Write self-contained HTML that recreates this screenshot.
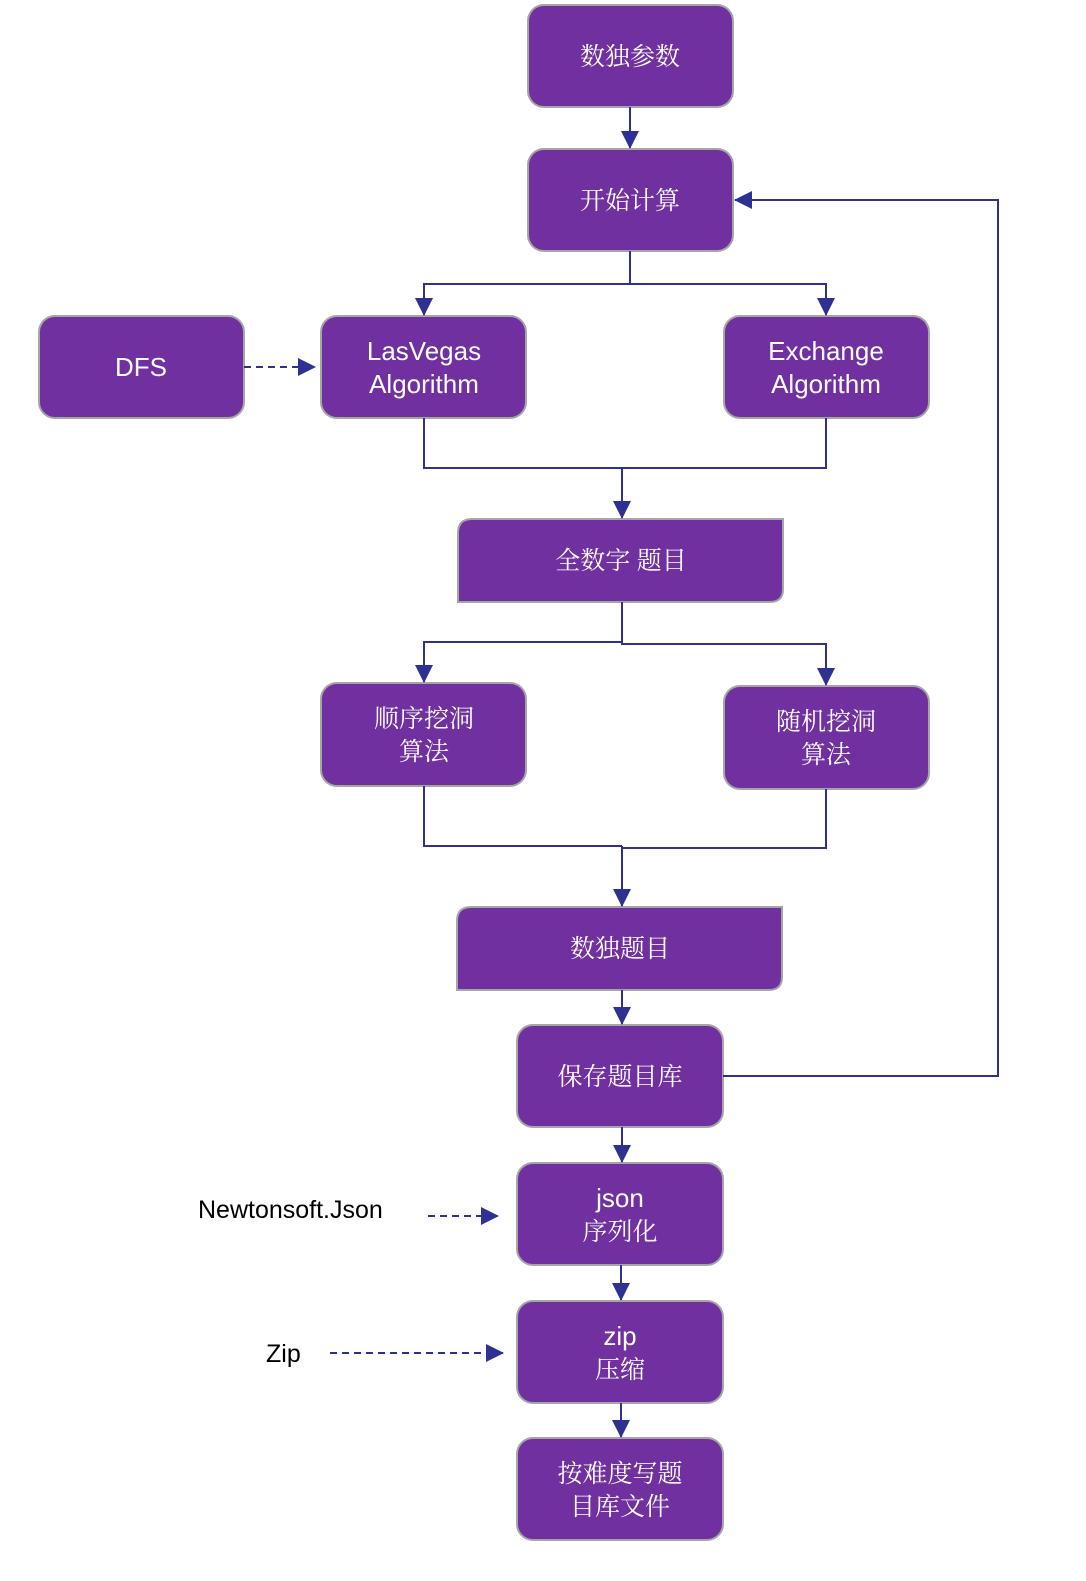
<!DOCTYPE html>
<html><head><meta charset="utf-8"><style>
html,body{margin:0;padding:0;background:#fff;}
svg text{fill:#fff;}
.c{font-family:"Noto Serif CJK SC","Liberation Serif",serif;font-size:25px;}
.l{font-family:"Liberation Sans",sans-serif;font-size:26px;}
</style></head><body>
<svg width="1086" height="1576" viewBox="0 0 1086 1576" xmlns="http://www.w3.org/2000/svg">
<defs><marker id="a" markerWidth="10" markerHeight="10" refX="9" refY="5" orient="auto" markerUnits="userSpaceOnUse" viewBox="0 0 10 10"><path d="M0,0 L10,5 L0,10 z" fill="#2e3192"/></marker>
<marker id="b" markerWidth="18" markerHeight="18" refX="17" refY="9" orient="auto" markerUnits="userSpaceOnUse" viewBox="0 0 18 18"><path d="M0,0 L18,9 L0,18 z" fill="#2e3192"/></marker></defs>
<g fill="#7030a0" stroke="#a6a6a6" stroke-width="2">
<rect x="528" y="5" width="205" height="102" rx="16"/>
<rect x="528" y="149" width="205" height="102" rx="16"/>
<rect x="39" y="316" width="205" height="102" rx="16"/>
<rect x="321" y="316" width="205" height="102" rx="16"/>
<rect x="724" y="316" width="205" height="102" rx="16"/>
<path d="M472,519 H783 V589 Q783,602 770,602 H458 V533 Q458,519 472,519 Z"/>
<rect x="321" y="683" width="205" height="103" rx="16"/>
<rect x="724" y="686" width="205" height="103" rx="16"/>
<path d="M471,907 H782 V977 Q782,990 769,990 H457 V921 Q457,907 471,907 Z"/>
<rect x="517" y="1025" width="206" height="102" rx="16"/>
<rect x="517" y="1163" width="206" height="102" rx="16"/>
<rect x="517" y="1301" width="206" height="102" rx="16"/>
<rect x="517" y="1438" width="206" height="102" rx="16"/>
</g>
<g fill="none" stroke="#2e3192" stroke-width="2">
<path d="M630,107 V148" marker-end="url(#b)"/>
<path d="M630,251 V284 H424 V315" marker-end="url(#b)"/>
<path d="M630,284 H826 V315" marker-end="url(#b)"/>
<path d="M244,367 H315" stroke-dasharray="7,5" marker-end="url(#b)"/>
<path d="M424,418 V468 H826 V418"/>
<path d="M622,468 V518" marker-end="url(#b)"/>
<path d="M622,602 V642 H424 V682" marker-end="url(#b)"/>
<path d="M622,642 V644 H826 V685" marker-end="url(#b)"/>
<path d="M424,786 V846 H622 M826,789 V848 H622"/>
<path d="M622,846 V906" marker-end="url(#b)"/>
<path d="M622,990 V1024" marker-end="url(#b)"/>
<path d="M723,1076 H998 V200 H735" marker-end="url(#b)"/>
<path d="M622,1127 V1162" marker-end="url(#b)"/>
<path d="M621,1265 V1300" marker-end="url(#b)"/>
<path d="M621,1403 V1437" marker-end="url(#b)"/>
<path d="M428,1216 H498" stroke-dasharray="7,5" marker-end="url(#b)"/>
<path d="M330,1353 H503" stroke-dasharray="7,5" marker-end="url(#b)"/>
</g>
<g text-anchor="middle">
<text class="c" x="630" y="65">数独参数</text>
<text class="c" x="630" y="209">开始计算</text>
<text class="l" x="141" y="376">DFS</text>
<text class="l" x="424" y="360">LasVegas</text>
<text class="l" x="424" y="393">Algorithm</text>
<text class="l" x="826" y="360">Exchange</text>
<text class="l" x="826" y="393">Algorithm</text>
<text class="c" x="621" y="569">全数字  题目</text>
<text class="c" x="424" y="727">顺序挖洞</text>
<text class="c" x="424" y="760">算法</text>
<text class="c" x="826" y="730">随机挖洞</text>
<text class="c" x="826" y="763">算法</text>
<text class="c" x="620" y="957">数独题目</text>
<text class="c" x="620" y="1085">保存题目库</text>
<text class="l" x="620" y="1207">json</text>
<text class="c" x="620" y="1240">序列化</text>
<text class="l" x="620" y="1345">zip</text>
<text class="c" x="620" y="1378">压缩</text>
<text class="c" x="620" y="1482">按难度写题</text>
<text class="c" x="620" y="1515">目库文件</text>
</g>
<text class="l" x="198" y="1218" style="fill:#000;font-size:25px">Newtonsoft.Json</text>
<text class="l" x="266" y="1362" style="fill:#000;font-size:25px">Zip</text>
</svg>
</body></html>
